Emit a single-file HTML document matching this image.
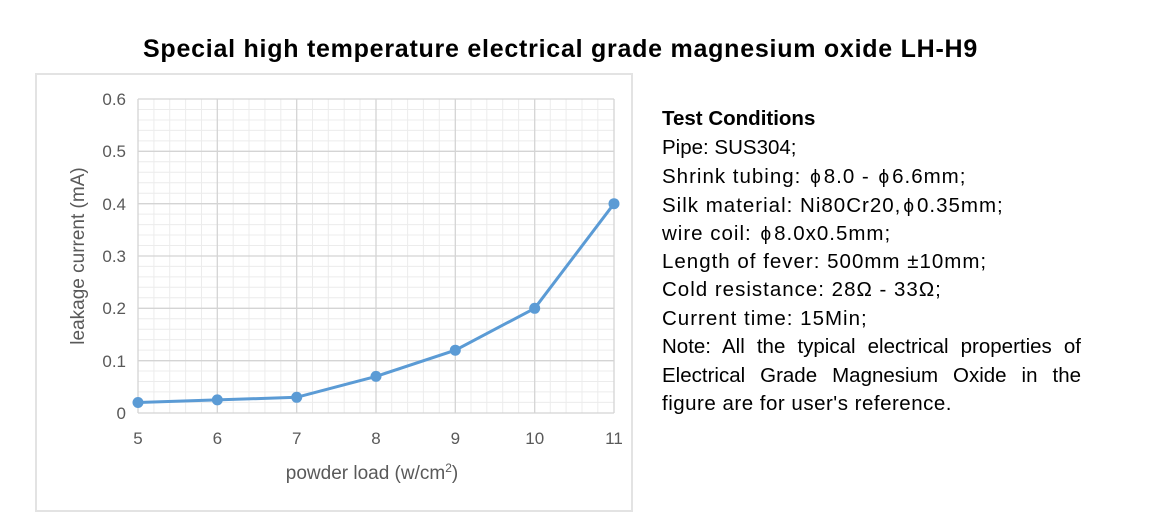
<!DOCTYPE html>
<html><head><meta charset="utf-8"><style>
body{margin:0;width:1156px;height:516px;background:#fff;overflow:hidden;font-family:"Liberation Sans",sans-serif;}
.t{position:absolute;left:143px;top:35px;font-weight:bold;font-size:25px;color:#000;white-space:nowrap;letter-spacing:0.75px;}
.box{position:absolute;left:35px;top:73px;width:598px;height:439px;border:2px solid #e3e3e3;box-sizing:border-box;}
.r{position:absolute;left:662px;top:105px;font-size:20.5px;line-height:28.5px;color:#000;width:420px;white-space:nowrap;letter-spacing:1px}
.r div{height:28.5px}
.j{text-align:justify;text-align-last:justify;width:419px;letter-spacing:0}
.p{font-family:"Noto Sans CJK SC",sans-serif;font-size:19px;margin:0 2px}
</style></head><body>
<div class="t">Special high temperature electrical grade magnesium oxide LH-H9</div>
<div class="box"></div>
<svg width="1156" height="516" style="position:absolute;left:0;top:0" font-family="Liberation Sans, sans-serif">
<g stroke="#ececec" stroke-width="1">
<path d="M153.9 99V413M169.7 99V413M185.6 99V413M201.5 99V413M233.2 99V413M249 99V413M264.9 99V413M280.8 99V413M312.5 99V413M328.3 99V413M344.2 99V413M360 99V413M391.7 99V413M407.6 99V413M423.4 99V413M439.3 99V413M471 99V413M486.8 99V413M502.7 99V413M518.6 99V413M550.3 99V413M566.1 99V413M582 99V413M597.8 99V413"/>
<path d="M138 109.5H614M138 120H614M138 130.4H614M138 140.9H614M138 161.8H614M138 172.3H614M138 182.7H614M138 193.2H614M138 214.1H614M138 224.6H614M138 235H614M138 245.5H614M138 266.4H614M138 276.9H614M138 287.3H614M138 297.8H614M138 318.7H614M138 329.2H614M138 339.6H614M138 350.1H614M138 371H614M138 381.5H614M138 391.9H614M138 402.4H614"/>
</g>
<g stroke="#d4d4d4" stroke-width="1.3">
<path d="M138 99V413M217.3 99V413M296.7 99V413M376 99V413M455.3 99V413M534.7 99V413M614 99V413"/>
<path d="M138 99H614M138 151.3H614M138 203.7H614M138 256H614M138 308.3H614M138 360.7H614M138 413H614"/>
</g>
<g fill="#595959" font-size="17" text-anchor="end">
<text x="126" y="105">0.6</text><text x="126" y="157">0.5</text><text x="126" y="210">0.4</text><text x="126" y="262">0.3</text><text x="126" y="314">0.2</text><text x="126" y="367">0.1</text><text x="126" y="419">0</text>
</g>
<g fill="#595959" font-size="17" text-anchor="middle">
<text x="138" y="444">5</text><text x="217.3" y="444">6</text><text x="296.7" y="444">7</text><text x="376" y="444">8</text><text x="455.3" y="444">9</text><text x="534.7" y="444">10</text><text x="614" y="444">11</text>
<text x="372" y="479" font-size="19">powder load (w/cm<tspan font-size="12" dy="-7">2</tspan><tspan dy="7">)</tspan></text>
<text transform="translate(84 256) rotate(-90)" font-size="19">leakage current (mA)</text>
</g>
<polyline fill="none" stroke="#5b9bd5" stroke-width="3" points="138,402.5 217.3,399.9 296.7,397.3 376,376.4 455.3,350.2 534.7,308.3 614,203.7"/>
<g fill="#5b9bd5"><circle cx="138" cy="402.5" r="5.5"/><circle cx="217.3" cy="399.9" r="5.5"/><circle cx="296.7" cy="397.3" r="5.5"/><circle cx="376" cy="376.4" r="5.5"/><circle cx="455.3" cy="350.2" r="5.5"/><circle cx="534.7" cy="308.3" r="5.5"/><circle cx="614" cy="203.7" r="5.5"/></g>
</svg>
<div class="r">
<div><b style="letter-spacing:0">Test Conditions</b></div>
<div style="letter-spacing:0">Pipe: SUS304;</div>
<div>Shrink tubing: <span class="p">ϕ</span>8.0 - <span class="p">ϕ</span>6.6mm;</div>
<div>Silk material: Ni80Cr20,<span class="p">ϕ</span>0.35mm;</div>
<div>wire coil: <span class="p">ϕ</span>8.0x0.5mm;</div>
<div>Length of fever: 500mm ±10mm;</div>
<div>Cold resistance: 28Ω - 33Ω;</div>
<div>Current time: 15Min;</div>
<div class="j">Note: All the typical electrical properties of</div>
<div class="j">Electrical Grade Magnesium Oxide in the</div>
<div style="letter-spacing:0.5px">figure are for user's reference.</div>
</div>
</body></html>
